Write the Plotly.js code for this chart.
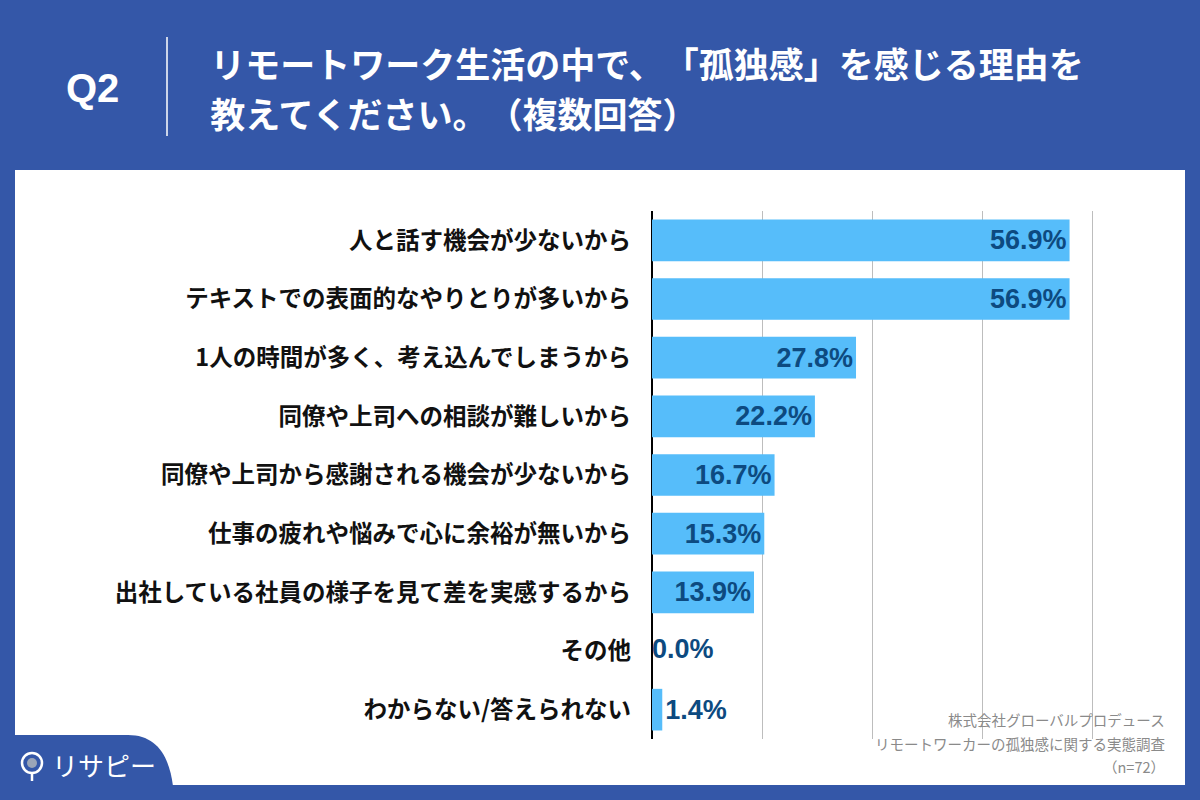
<!DOCTYPE html>
<html>
<head>
<meta charset="utf-8">
<script src="https://cdn.plot.ly/plotly-3.0.1.min.js"></script>
<style>
html,body{margin:0;padding:0;background:#3457A8;}
#chart{width:1200px;height:800px;}
#chart text{text-spacing-trim: space-all;}
</style>
</head>
<body>
<div id="chart"></div>
<script>
const categories = [
  "人と話す機会が少ないから",
  "テキストでの表面的なやりとりが多いから",
  "1人の時間が多く、考え込んでしまうから",
  "同僚や上司への相談が難しいから",
  "同僚や上司から感謝される機会が少ないから",
  "仕事の疲れや悩みで心に余裕が無いから",
  "出社している社員の様子を見て差を実感するから",
  "その他",
  "わからない/答えられない"
];
const values = [56.9, 56.9, 27.8, 22.2, 16.7, 15.3, 13.9, 0.0, 1.4];
const titleLine1 = "リモートワーク生活の中で、「孤独感」を感じる理由を";
const titleLine2 = "教えてください。（複数回答）";
const questionLabel = "Q2";
const sourceLines = ["株式会社グローバルプロデュース", "リモートワーカーの孤独感に関する実態調査", "（n=72）"];
const logoText = "リサピー";

const W = 1200, H = 800;
const m = {l: 652, r: 93, t: 211, b: 61};
const PW = W - m.l - m.r, PH = H - m.t - m.b;
const px = x => (x - m.l) / PW;
const py = y => (H - m.b - y) / PH;

const BLUE = "#3457A8";
const JP = "Noto Sans CJK JP";
const NUMFONT = {family: "Liberation Sans, Arial, sans-serif", size: 27, color: "#0D4A80", weight: "bold"};

const shapes = [
  {type: "rect", xref: "paper", yref: "paper", x0: px(15), x1: px(1185), y0: py(785), y1: py(170),
   fillcolor: "#ffffff", line: {width: 0}, layer: "below"},
  {type: "line", xref: "paper", yref: "paper", x0: px(167), x1: px(167), y0: py(37), y1: py(136),
   line: {color: "#ffffff", width: 1.5}},
  {type: "path", xref: "paper", yref: "paper", layer: "above",
   path: `M ${px(0)},${py(735)} L ${px(128)},${py(735)} C ${px(156)},${py(735)} ${px(169)},${py(755)} ${px(173)},${py(786)} L ${px(173)},${py(800)} L ${px(0)},${py(800)} Z`,
   fillcolor: BLUE, line: {width: 0}},
  {type: "circle", xref: "paper", yref: "paper", x0: px(22), x1: px(42), y0: py(773), y1: py(753),
   line: {color: "#ffffff", width: 2.5}, fillcolor: "rgba(0,0,0,0)"},
  {type: "circle", xref: "paper", yref: "paper", x0: px(27), x1: px(37), y0: py(768), y1: py(758),
   line: {width: 0}, fillcolor: "#9AA5B8"},
  {type: "line", xref: "paper", yref: "paper", x0: px(32), x1: px(32), y0: py(773), y1: py(781),
   line: {color: "#ffffff", width: 2.5}}
];

const annotations = [
  {text: questionLabel, xref: "paper", yref: "paper", x: px(92), y: py(88), xanchor: "center", yanchor: "middle",
   showarrow: false, font: {family: "Liberation Sans, Arial, sans-serif", size: 40, color: "#ffffff", weight: "bold"}},
  {text: titleLine1, xref: "paper", yref: "paper", x: px(217), y: py(62), xanchor: "left", yanchor: "middle",
   showarrow: false, font: {family: JP, size: 35, color: "#ffffff", weight: "bold"}},
  {text: titleLine2, xref: "paper", yref: "paper", x: px(217), y: py(112), xanchor: "left", yanchor: "middle",
   showarrow: false, font: {family: JP, size: 35, color: "#ffffff", weight: "bold"}},
  {text: logoText, xref: "paper", yref: "paper", x: px(50), y: py(764), xanchor: "left", yanchor: "middle",
   showarrow: false, font: {family: JP, size: 26, color: "#ffffff"}}
];
const srcY = [719, 743, 766];
sourceLines.forEach((t, i) => annotations.push({
  text: t, xref: "paper", yref: "paper", x: px(1167), y: py(srcY[i]), xanchor: "right", yanchor: "middle",
  showarrow: false, font: {family: JP, size: 14.5, color: "#8a8a8a"}
}));

const bars = {
  type: "bar", orientation: "h",
  x: values, y: categories,
  marker: {color: "#56BDFA", line: {width: 0}},
  texttemplate: "%{x:.1f}%",
  textposition: "auto",
  insidetextanchor: "end",
  constraintext: "none",
  cliponaxis: false,
  insidetextfont: NUMFONT,
  outsidetextfont: NUMFONT,
  hoverinfo: "none"
};

// zero-length bars get no bar text in Plotly; label them with a text trace
const zeroX = values.filter(v => v === 0);
const zeroY = categories.filter((c, i) => values[i] === 0);
const zeroLabels = {
  type: "scatter", mode: "text",
  x: zeroX, y: zeroY,
  text: zeroX.map(v => v.toFixed(1) + "%"),
  textposition: "middle right",
  textfont: NUMFONT,
  cliponaxis: false,
  hoverinfo: "none"
};

const layout = {
  width: W, height: H, margin: m,
  paper_bgcolor: BLUE, plot_bgcolor: "rgba(0,0,0,0)",
  showlegend: false, bargap: 0.29,
  font: {family: JP},
  xaxis: {range: [0, 62], dtick: 15, tick0: 0, showticklabels: false, showgrid: true,
          gridcolor: "#bdbdbd", gridwidth: 1, zeroline: true, zerolinecolor: "#000000", zerolinewidth: 1.5,
          fixedrange: true, showline: false},
  yaxis: {autorange: "reversed", showgrid: false, zeroline: false, ticks: "",
          ticklabelstandoff: 20,
          tickfont: {family: JP, size: 23.5, color: "#111111", weight: "bold"}, fixedrange: true},
  shapes: shapes, annotations: annotations
};

Plotly.newPlot("chart", [bars, zeroLabels], layout, {displayModeBar: false, staticPlot: true});
</script>
</body>
</html>
